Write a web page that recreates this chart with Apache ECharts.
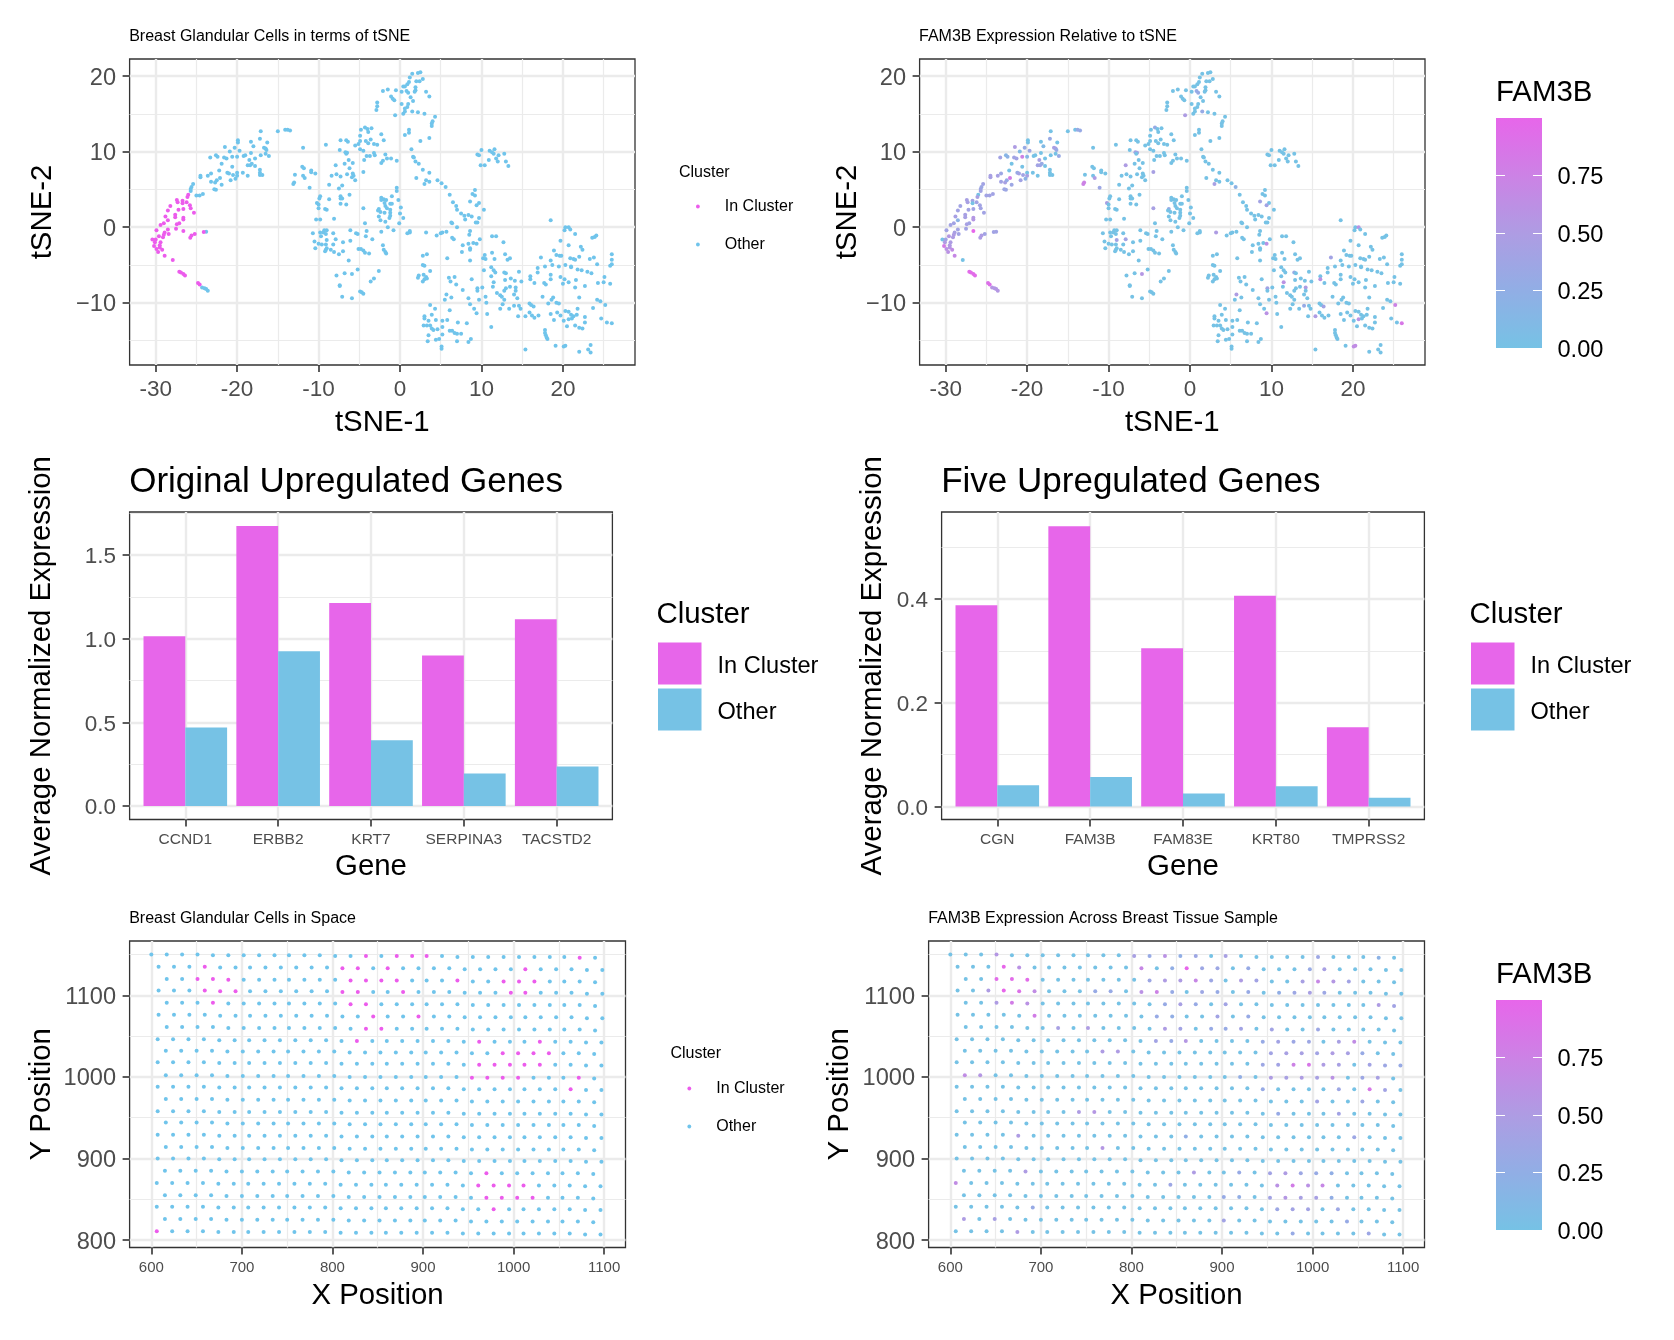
<!DOCTYPE html>
<html><head><meta charset="utf-8">
<style>html,body{margin:0;padding:0;background:#fff}#c{width:1674px;height:1340px}</style>
<script src="https://cdn.jsdelivr.net/npm/echarts@6/dist/echarts.min.js"></script>
</head><body><div id="c"></div>
<script>
// ---------- gene bars ----------
const genesOriginal = ['CCND1','ERBB2','KRT7','SERPINA3','TACSTD2'];
const originalInCluster = [1.015,1.674,1.213,0.90,1.117];
const originalOther = [0.47,0.925,0.393,0.195,0.237];
const genesFive = ['CGN','FAM3B','FAM83E','KRT80','TMPRSS2'];
const fiveInCluster = [0.388,0.54,0.305,0.406,0.153];
const fiveOther = [0.041,0.057,0.025,0.039,0.017];

// ---------- tSNE cells: [tSNE-1, tSNE-2, FAM3B (omitted = 0)] ----------
const tsneInCluster = [
[-26,4.3],[-26.1,4,.45],[-27.4,3.6,.45],[-26.7,3.5,.4],[-26.2,3.3,.4],[-27.3,3.3,.45],[-26.7,3.15],[-25.8,2.9,.4],[-28.2,2.8,.4],[-25.7,2.5,.4],
[-27.2,2.3,.4],[-26.6,2.4,.4],[-28.5,2.2,.4],[-25.3,1.9,.4],[-28.8,1.4,.45],[-27.6,1.65,.45],[-27.6,1.3,.45],[-26.6,1.25,.55],[-26.6,1,.55],[-28.5,.9,.2],
[-29,.5,.4],[-29.4,.3,.4],[-27.4,.4,.45],[-27.1,.5,.4],[-27.5,-.2,.4],[-29.9,-.4,.4],[-28.5,-.3,.4],[-26.6,-.5,1],[-28.9,-.7,.45],[-29,-1,.5],
[-29.6,-1.2,.55],[-29.1,-1.35,.5],[-28.4,-.9,.4],[-25.2,-.9,.4],[-25.6,-1.1,.5],[-25.75,-1.4,.5],[-24.1,-.65,.4],[-30.4,-1.65],[-30,-1.65,.4],[-30.1,-2,.5],
[-29.4,-2,.5],[-29.5,-2.4,.5],[-30.2,-2.5,.8],[-29.5,-2.7,.55],[-29.9,-2.9,.6],[-29.2,-3,.65],[-29.7,-3.3,.6],[-28.9,-3.8,.7],[-27.9,-4.35],[-27.1,-5.9,.95],
[-26.9,-6,.95],[-26.6,-6.2,.95],[-26.4,-6.4,.95],[-24.8,-7.4,.9],[-24.6,-7.6,.9]
];
const tsneOther = [
[-23.8,-.6,.4],[-24.3,-8,.55],[-24,-8.1,.55],[-23.8,-8.2,.55],[-23.6,-8.4,.55],
[-25.4,5.7,.4],[-25.6,5.3,.35],[-25.7,5.05,.35],[-25.7,4.8,.4],[-25,4.2,.4],[-24.6,4.2,.4],[-24.2,4.4,.4],
[-24.5,6.8,.45],[-24.5,6.6,.45],[-23.6,6.8,.45],[-23.2,7.1,.35],[-23.2,6,.4],[-22.7,5.9,.45],[-22.5,6.2,.3],[-22.1,6.5,.8],[-22.2,7.5],[-21.9,5.6,.35],[-22.8,5,.35],[-22.6,4.95,.35],
[-23.3,9.2,.4],[-22.6,9.5,.15],[-22.4,9.3,.2],[-21.6,9.2,.4],[-21.3,9.1,.4],[-21.5,10.6,.5],[-20.9,10,.1],[-20.3,10.5,.3],[-20.6,9.3,.75],[-20,9.3,.15],[-19.7,10.1,.35],[-19.9,11.5],[-19.9,11.2],[-19.2,9.4],[-19,9.5],
[-21.9,8.4],[-20.6,8],[-21.2,7.2,.3],[-21,7.1,.4],[-20.5,6.9,.4],[-20,7.2],[-19.3,7.2],[-20,6.8,.45],[-20.8,6.2,.4],[-20.2,6.4,.2],[-18.7,6.8],[-18.7,8.2,.4],[-18.4,8.2,.4],[-18.2,8.4,.3],[-17.8,8.1],[-18.5,8.9,.45],[-17.8,9.1],[-18.3,9.8],[-18,10.7,.1],[-18.3,11.3],[-17.2,11.7,.3],[-16.3,11.2],[-16.7,10.5,.45],[-16.5,10.4,.45],[-16.4,10.2,.3],[-17.1,9.5],[-16.5,9.7],[-16.1,9.4,.3],[-17.2,7.6],[-17.2,7.2],[-16.9,6.9],[-17.2,6.9],
[-17.1,12.7],[-15,12.7],[-14.1,12.9],[-13.8,12.9,.3],[-13.5,12.8,.3],
[-11.9,10.5],[-9.1,10.9],[-12,8],[-11.8,7.8],[-10.9,7.5],[-10.9,7.25],[-10.4,7.1],[-12.9,6.95],[-11.9,6.8],[-11.7,6.5,.5],[-13,5.9,.75],[-13.1,5.7,.75],[-11.1,5.2,.35],
[-7.3,11.5],[-6.6,11.5],[-6.4,11.3],[-7.4,10.2],[-6.7,9.9,.4],[-6.5,9.85,.4],[-6.6,9.7],[-5.5,10.8],[-5.1,11],[-4.8,12.9],[-4.9,12.1],[-4.3,13.2,.3],[-4,13],[-3.9,12.6],[-3.5,13.1],[-2.3,12.3],[-2,11.5],[-4.9,11.4],[-4.2,11.4],[-3.6,11.6],[-3.9,11.1],[-3.2,11],[-2.8,10.9],[-4.9,10.3],[-4.5,10.1],[-3.2,9.8],[-3.1,9.5],[-4.1,9.4],[-3.7,9.4],[-4.4,8.9],[-1.8,9.6],[-1.6,9.1],[-1.1,9.1],[-.4,8.8],[-2.1,8.8],[-2.3,8.5],
[-7.9,8.2,.5],[-6.8,8.4],[-6.3,8.9],[-5.8,8.5],[-6.2,7.8],[-6.5,7],[-7.8,7],[-8.4,6.8],[-7.3,6.7],[-5.8,7.1],[-5.7,6.8],[-5.9,6.6],[-5.5,6.2],[-4.5,7.3,.45],[-8.7,5.6],[-7.5,5.1],[-7.1,5.5],
[-6.2,4.3],[-7.3,4.1],[-7.3,3.8],[-7.1,3.8],[-8.7,3.7],[-9.8,4.1],[-9.9,3.8],[-10.2,3.2,.45],[-10,3],[-10,2.5],[-9.2,2.4],[-9,2.3],[-7.3,3.1],[-6.6,3],[-4.5,2.5,.45],[-8.1,1.1],[-10.3,1],[-9.8,1],[-4.3,.5],
[-.4,5.2],[-.4,4.8],[-1,4.1],[-2.3,3.9],[-2,3.7],[-1.7,3.6],[-2.3,3.6],[-1.9,3.2],[-.2,3.6],[-1.2,3.1],[-1,3.1],[.1,2.6],[-1.8,2.8],[-1.6,2.5],[-2.6,2.4,.3],[-2.7,2.2],[-2.4,2],[-1.9,1.9],[-1.2,2.3],[-1.2,1.9],[0,1.8],[-1.2,1.5],[-1.3,1.2],[-2.6,1.4],[-2.4,.9],[-1.8,.7],[-.1,.5],[.4,1.2],[-1.5,0],[-.8,-.4],[-2.3,-.6],[-4.1,-.5],[1.2,-.5],[1.2,-.7],[.9,-.8],
[-9.3,-.4],[-9,-.4],[-10.7,-.8],[-9.8,-.7],[-9.4,-.7],[-9.7,-1.2],[-9.1,-.9],[-8.2,-.8],[-10.5,-1.9],[-10,-2.2],[-9.6,-2.3],[-9,-1.7,.4],[-9.1,-2.3],[-10.4,-2.8],[-7.9,-1.6,.4],[-7,-2],[-8.2,-2.3],[-9,-2.8],[-9.1,-3],[-9.2,-3.2],[-8.5,-3],[-8.1,-3.3],[-7.5,-3.6],[-7,-3.2],[-6.1,-.4],[-5.4,-.8],[-5.2,-.9],[-4.2,-1.2],[-6.1,-1.8],[-3.4,-1.6],[-5.1,-2.9],[-4.8,-2.9],[-4.5,-3.1],[-4.3,-3.4],[-3.8,-3.5],[-2.1,-2.4],[-2,-3],[-1.8,-3.3],[-1.7,-3.5],[-6.3,-4.4],
[-7.8,-6.4],[-6.8,-6.1],[-5.9,-6.2,.55],[-5.2,-5.6],[-2.6,-5.8],[-3.2,-6.8],[-3.6,-7.2],[-7.4,-7.7],[-7.4,-7.8],[-4.9,-8.5],[-4.7,-8.6],[-4.5,-8.8],[-7.1,-9.2],[-5.9,-9.4],
[2.5,20.5],[2.2,20.4],[1.5,20.3],[1.2,19.8],[2.8,19.6],[2,19.3],[2.4,19.3],[1.1,19.2],[.9,18.9],[.4,18.6],[.6,18.6],[1.9,18.5],[1.9,18.1],[1.8,17.9],[.8,18,.3],[1,17.8,.3],[.2,17.9],[-.5,18.1],[-1.5,18.2],[-2.1,18],[3.2,17.9],[3.6,17.3],[1.3,17.2],[-1.1,17.3],[-.9,17],[-.7,16.8],[1.6,16.7],[.2,16.3],[1,16.3],[.9,15.9],[.6,15.7],[-2.8,16.5],[-2.8,16],[-2.9,15.5],[.6,15.3],[1.5,15.3,.3],[2.2,15.2],[3,15],[.4,15],[-.6,14.8,.5],[4.3,14.6],[4,14],[3.9,13.7],[3.9,13.4],[1.1,12.9],[1.1,12.5],[.6,12.2],[2.5,11.4],[3.6,11.8],
[1.4,10.3],[1.6,9.3],[1.7,9.2],[1.9,8.7],[2.3,8.4],[2.8,7.6],[3.6,7.2],[2,6.5],[3.2,6.2],[3.6,6],[3,5.7,.45],[4.6,6.2],[5.1,5.8],[5.6,5.3,.2],[6.1,4.3],[6.5,3.3],[6.9,2.8],[7,2.3],[7.5,1.8],[7.9,1.5],[8,1],[8.4,1.6],[8.8,1.4],[6.4,.5],[6.3,.6],[7,0],[9.5,.6],[9.3,.6],[9.7,1.2],[10.3,2.3],[9.7,3.2],[9.4,2.9,.4],[8.6,3.4,.4],[9.2,4.9],[8.9,4.4],[9.2,4.2],
[9.5,9.6],[9.7,9.5],[10,10.2],[11,10.1],[11.3,9.9],[11.6,10.3],[11.5,9.7],[12.1,9.5],[11.8,9.1],[12.8,9.7],[12,8.7],[10.9,8.9],[10.4,8.2],[9.9,8.2],[13,8.7],[13.3,8.1],
[3.2,-.7,.5],[4.5,-1.1],[5,-.8],[5.2,-.7],[5.7,-.6],[6.4,-1.4],[6.6,-1.6],[8.6,-.5],[8.5,-1],[7.7,-2.4],[8.4,-2.2],[9,-2.1],[9.4,-2.2,.6],[9.8,-1.6],[8.6,-2.8],[8.6,-3],[7.6,-3.3],[11.3,-1.2],[11.8,-1.2],[12.7,-2],
[3.3,-3.6],[2.8,-3.8],[5.8,-4.1],[8.6,-4.4],[10.4,-3.7],[10.2,-4.1],[10.5,-4.2],[11.3,-3.4],[11.6,-4.2],[12.9,-3.6],[13.5,-4.1],[13.2,-4.3],
[2.8,-5],[3,-5.1],[3.7,-5.8],[2.3,-6.4],[2.2,-6.7],[2.9,-6.3],[3.2,-6.6],[3,-6.9],[2.8,-7.2],[3.3,-6.8],
[6,-6.7],[6.7,-6.6],[6.2,-7.2],[6.9,-7.6],[8.8,-6.9],[7.7,-8.3],[5.7,-8.9,.5],[5.5,-9.6],[6.3,-9.3],[8.4,-9.4],[9.5,-8.1,.4],[9.5,-8.4],[10.1,-8],[9.7,-9.6],[10.5,-9.2],[10.6,-10],
[3.7,-10.3],[4.3,-10.8],[3,-11.8],[3.9,-11.6],[3,-12.1],[3.5,-12.4],[4.4,-12.3],[5.2,-12.4],[6.1,-11],[5.8,-12.3],[7.1,-12.6],[8.2,-12.7],[2.9,-13],[3.3,-13],[3.7,-13],[3.9,-13.4],[4.1,-13.6],[4.6,-13.5],[5.2,-13.2],[6.1,-13.7],[6.4,-13.7],[6.7,-14],[7,-14.1],[7.5,-14.1],[5.2,-14.2],[3.5,-14.3],[3.4,-15.1],[4.4,-14.9],[4.8,-14.8],[7,-15.1],[8.4,-15.2],[8.7,-14.8],[5.1,-15.8],[5.1,-16.1],
[8.6,-10.2],[9.1,-10.8],[9.4,-11.4,.6],[10.7,-11.5],[11.2,-13.2],[10.3,-5.7],[11.2,-5.3],[11.5,-5.7],[11.7,-6],[11.2,-6.5],[12.8,-6,.3],[13,-6.1],[14.6,-5.9],[12.9,-7],[13.6,-6.8],[14.1,-7.1],[14.9,-7.2],[11.5,-7.3,.6],[11.4,-7.9],[13,-8.1],[12.8,-8.4],[13.5,-7.9],[14.2,-8,.5],[14.2,-8.4],[11.9,-8.7],[12.3,-9],[12.5,-9.2],[12.8,-9.6],[14,-8.9],[14.4,-9.4],[12.6,-10.2],[12.3,-10.8],[13.4,-10.8],[14,-10.4,.3],[14.6,-10.4],[14.8,-10.8],[14.5,-11.8],[15.4,-11.8,.5],[15.9,-10.1],[16.1,-10.3],[16.4,-10.5,.4],[15.9,-11.3],[16.2,-11.7],[16.5,-12],[17,-11.7],
[18.5,.9],[16,-6.5],[16,-6.9,.6],[16.5,-7.4],[16.9,-5.4],[16.9,-6],[17.3,-4,.4],[17.8,-5.2],[18.5,-4.4],[18.9,-3.1],[18.7,-5],[19.2,-3.7],[19.6,-3.8],[19.8,-3.8],[19.5,-5.2],[20.3,-5],[21,-5.2],[21.8,-5.6],[22.3,-5.7],[23,-5.9],[23.5,-6.1],[24.2,-4.9],[26,-3.6],[26,-4.3],[26,-4.9],[25.8,-5.1],[23.8,-4],[23.3,-4.2],[22,-3.9],[20.9,-4.1],[21.3,-4.2],[21.5,-4.3],[21,-5.3],[18.5,-6.3],[18.5,-6.9],[17.7,-7.4],[17.9,-7.6],[19.7,-6.6],[20.2,-6.9],[20,-7.5],[20.7,-7.3],[21.6,-7],[21.5,-8],[22.7,-7.8],[24.3,-7.4],[25,-7.3],[25.1,-6.6],[25.8,-7.5],[22,-9.3],[17.5,-9.2],[18.8,-9.3],[18.6,-9.6],[19.2,-10],[19.5,-10.1],[18.2,-10.1],[18.5,-11.5],[19.3,-11.3],[19.7,-11.7],[18.9,-12.3],[20.1,-12.4],[20.3,-11.1],[20.7,-11.2],[21,-11.6],[20.7,-12.2,.6],[21.1,-12.1],[21.3,-11.8],[21.8,-10.8],[21.7,-11.6],[20.5,-13.1],[21.5,-13],[22,-13.3],[22.4,-13.4],[22.7,-11.9],[22.7,-12.6],[23.7,-10.7],[24.2,-9.6],[24.6,-9.8],[25.2,-10.3,.75],[24.7,-12.1],[25.4,-12.6],[26,-12.7,.85],
[17.8,-13.6],[17.8,-14],[17.9,-14.3],[18,-14.6],[18.1,-14.8],[15.4,-16.2],[19.1,-15.7],[20.1,-15.8,.65],[20.3,-15.7,.65],[22,-16.5],[23.1,-16.2],[23.4,-16.6],[23.4,-15.6],
[20.2,-.4],[20.3,0],[20.7,0,.6],[20.9,-.3],[21.5,-.9],[19.7,-1.8],[20.7,-2.4],[22.2,-2.6],[22.4,-3],[23.6,-1.4],[23.9,-1.3],[24.1,-1.1]
];

// ---------- tissue spots, row by row ----------
const spotXr0 = [600,617,634,651,668,685,702,719,736,752,769,786,803,820,837,854,871,888,904,921,938,955,972,989,1006,1023,1040,1056,1073,1090];
const spotXa0 = [608,625,642,659,676,693,709,726,743,760,777,794,811,828,845,861,878,895,912,929,946,963,980,997,1013,1030,1047,1064,1081,1098];
const spotXa1 = [607,624,641,658,675,692,708,725,742,759,776,793,810,827,844,860,877,894,911,928,945,962,979,996,1012,1029,1046,1063,1080,1097];
const spotXa2 = [606,623,640,657,674,691,707,724,741,758,775,792,809,826,843,859,876,893,910,927,944,961,978,995,1011,1028,1045,1062,1079,1096];
const spotXb0 = [617,634,651,668,685,702,719,736,752,769,786,803,820,837,854,871,888,904,921,938,955,972,989,1006,1023,1040,1056,1073,1090];
const spotXb1 = [616,633,650,667,684,701,718,735,751,768,785,802,819,836,853,870,887,903,920,937,954,971,988,1005,1022,1039,1055,1072,1089];
const spotXb2 = [615,632,649,666,683,700,717,734,750,767,784,801,818,835,852,869,886,902,919,936,953,970,987,1004,1021,1038,1054,1071,1088];
const spotRowX = [spotXr0,spotXa0,spotXb0,spotXa0,spotXb0,spotXa0,spotXb0,spotXa1,spotXb1,spotXa1,spotXb1,spotXa1,spotXb1,spotXa1,spotXb1,spotXa1,spotXb1,spotXa1,spotXb2,spotXa2,spotXb2,spotXa2,spotXb2,spotXa2];
const spotRowY = [
[1150,1150,1150,1150,1149,1149,1149,1149,1149,1149,1149,1149,1148,1148,1148,1148,1148,1148,1148,1148,1147,1147,1147,1147,1147,1147,1147,1147,1146,1146],
[1135,1135,1135,1135,1134,1134,1134,1134,1134,1134,1134,1134,1133,1133,1133,1133,1133,1133,1133,1133,1132,1132,1132,1132,1132,1132,1132,1132,1131,1131],
[1120,1120,1120,1120,1119,1119,1119,1119,1119,1119,1119,1119,1118,1118,1118,1118,1118,1118,1118,1118,1117,1117,1117,1117,1117,1117,1117,1117,1116],
[1106,1106,1106,1106,1105,1105,1105,1105,1105,1105,1105,1105,1104,1104,1104,1104,1104,1104,1104,1104,1103,1103,1103,1103,1103,1103,1103,1103,1102,1102],
[1091,1091,1091,1091,1090,1090,1090,1090,1090,1090,1090,1090,1089,1089,1089,1089,1089,1089,1089,1089,1088,1088,1088,1088,1088,1088,1088,1088,1087],
[1076,1076,1076,1076,1075,1075,1075,1075,1075,1075,1075,1075,1074,1074,1074,1074,1074,1074,1074,1074,1073,1073,1073,1073,1073,1073,1073,1073,1072,1072],
[1061,1061,1061,1061,1060,1060,1060,1060,1060,1060,1060,1060,1059,1059,1059,1059,1059,1059,1059,1059,1058,1058,1058,1058,1058,1058,1058,1058,1057],
[1046,1046,1046,1046,1045,1045,1045,1045,1045,1045,1045,1045,1044,1044,1044,1044,1044,1044,1044,1044,1043,1043,1043,1043,1043,1043,1043,1043,1042,1042],
[1032,1032,1032,1032,1031,1031,1031,1031,1031,1031,1031,1031,1030,1030,1030,1030,1030,1030,1030,1030,1029,1029,1029,1029,1029,1029,1029,1029,1028],
[1018,1018,1018,1018,1017,1017,1017,1017,1017,1017,1017,1017,1016,1016,1016,1016,1016,1016,1016,1016,1015,1015,1015,1015,1015,1015,1015,1015,1014,1014],
[1002,1002,1002,1002,1001,1001,1001,1001,1001,1001,1001,1001,1000,1000,1000,1000,1000,1000,1000,1000,999,999,999,999,999,999,999,999,998],
[988,988,988,988,987,987,987,987,987,987,987,987,986,986,986,986,986,986,986,986,985,985,985,985,985,985,985,985,984,984],
[973,973,973,973,972,972,972,972,972,972,972,972,971,971,971,971,971,971,971,971,970,970,970,970,970,970,970,970,969],
[958,958,958,958,957,957,957,957,957,957,957,957,956,956,956,956,956,956,956,956,955,955,955,955,955,955,955,955,954,954],
[944,944,944,944,943,943,943,943,943,943,943,943,942,942,942,942,942,942,942,942,941,941,941,941,941,941,941,941,940],
[929,929,929,929,928,928,928,928,928,928,928,928,927,927,927,927,927,927,927,927,926,926,926,926,926,926,926,926,925,925],
[914,914,914,914,913,913,913,913,913,913,913,913,912,912,912,912,912,912,912,912,911,911,911,911,911,911,911,911,910],
[900,900,900,900,899,899,899,899,899,899,899,899,898,898,898,898,898,898,898,898,897,897,897,897,897,897,897,897,896,896],
[885,885,885,885,884,884,884,884,884,884,884,884,883,883,883,883,883,883,883,883,882,882,882,882,882,882,882,882,881],
[870,870,870,870,869,869,869,869,869,869,869,869,868,868,868,868,868,868,868,868,867,867,867,867,867,867,867,867,866,866],
[855,855,855,855,854,854,854,854,854,854,854,854,853,853,853,853,853,853,853,853,852,852,852,852,852,852,852,852,851],
[841,841,841,841,840,840,840,840,840,840,840,840,839,839,839,839,839,839,839,839,838,838,838,838,838,838,838,838,837,837],
[826,826,826,826,825,825,825,825,825,825,825,825,824,824,824,824,824,824,824,824,823,823,823,823,823,823,823,823,822],
[811,811,811,811,810,810,810,810,810,810,810,810,809,809,809,809,809,809,809,809,808,808,808,808,808,808,808,808,807,807]
];
// in-cluster spots: position within each row
const spotInClusterCols = [
[14,16,17,18,28],[3,12,13,15,24],[2,3,4,12,13,14,15,19,22,23,24],[3,4,5,12,13,16,23,24],[3,12,13],[14,17],[13,14],[13,21,25],[22,23,24,25],[21,22,23,24,25],[20,21,22,23,27],[27],
[],[],[],[],[],[],[21],[21,22,23,24],[21,22,23,24],[22],[],[0]
];
// FAM3B per spot: [position in row, value]; spots not listed are 0
const spotFam3b = [
[[3,.55],[12,.45],[13,.3],[14,.6],[15,.25],[16,.35],[18,.45],[24,.35],[28,.2]],
[[3,1],[4,.6],[12,.7],[14,.25],[15,1],[16,.35],[17,.35],[19,.3],[23,.3],[24,.45]],
[[2,.95],[3,.95],[4,.95],[12,.35],[13,.5],[14,.5],[15,.7],[16,.35],[18,.5],[19,.4],[22,.45],[23,.7],[24,.55],[25,.4]],
[[2,.5],[3,1],[4,.9],[5,.65],[9,.3],[10,.3],[12,.6],[13,.75],[14,.3],[16,.35],[17,.3],[19,.3],[21,.25],[22,.35],[23,.45],[24,.35]],
[[2,.5],[3,.8],[4,.6],[13,.3],[14,.45],[15,.3],[17,.4],[27,.5],[28,.4]],
[[5,.8],[13,.3],[14,.25],[17,.4],[19,.3]],
[[6,.45],[8,.5],[13,.5],[14,.4],[16,.3],[17,.3],[18,.4],[20,.4],[23,.35]],
[[13,.4],[14,.3],[15,.55],[20,.3],[21,.4],[22,.35],[23,.35],[25,.45],[26,.65]],
[[9,.5],[10,.5],[20,.4],[21,.45],[22,.45],[23,.4],[24,.5],[25,.45],[26,.3]],
[[20,.35],[21,.4],[22,.75],[23,.85],[24,.5],[25,.45],[27,.4],[28,.35],[29,.3]],
[[0,.65],[1,.55],[18,.25],[20,.5],[21,.45],[22,.5],[23,.45],[24,.6],[26,.35],[27,.45]],
[[20,.3],[25,.35],[27,.85],[28,.4]],
[[23,.4],[26,.35]],
[[8,.5],[9,.55],[21,.3],[25,.4]],
[],
[[4,.5],[15,.25],[26,.35]],
[[9,.55]],
[],
[[4,.5],[15,.5],[18,.3],[20,.4],[21,.5],[22,.35],[23,.3],[24,.25]],
[[0,.65],[14,.35],[21,.6],[22,.8],[23,.6],[24,.7]],
[[17,.3],[18,.25],[20,.4],[21,.55],[22,.45],[23,.45],[24,.25]],
[[5,.3],[21,.35],[22,.4],[23,.4],[25,.35]],
[[0,.5],[2,.45],[17,.4],[25,.3]],
[[4,.5],[22,.3],[27,.35]]
];

// ---------- ticks ----------
const tsneXMajor = [-30,-20,-10,0,10,20], tsneXMinor = [-25,-15,-5,5,15,25];
const tsneYMajor = [-10,0,10,20], tsneYMinor = [-15,-5,5,15];
const spotXMajor = [600,700,800,900,1000,1100], spotXMinor = [650,750,850,950,1050];
const spotYMajor = [800,900,1000,1100], spotYMinor = [850,950,1050,1150];
const barXTicks = [1,2,3,4,5];
const origYMajor = [0,.5,1,1.5], origYMinor = [.25,.75,1.25,1.75];
const fiveYMajor = [0,.2,.4], fiveYMinor = [.1,.3,.5];
const colorbarTicks = [0,.25,.5,.75];

// ---------- styles ----------
const FONT = '"Liberation Sans", Arial, sans-serif';
const PINK='#E766EA', BLUE='#76C2E5', DOT_PINK='#EC5CEC', DOT_BLUE='#70C4EB';
const RAMP=['#76C2E5','#91AEE5','#AE9CE3','#CC82E5','#E766EA'];
const GRID='#EBEBEB', TICK='#333333', TICKTXT='#4D4D4D';
const NAME_SIZE=29.4, DOT=4;

// ---------- build spot tables ----------
const spotIn=[], spotOut=[], spotExpr=[];
spotRowX.forEach((xs,r)=>{
  const fam=new Map(spotFam3b[r]);
  xs.forEach((x,c)=>{
    const y=spotRowY[r][c];
    (spotInClusterCols[r].includes(c)?spotIn:spotOut).push([x,y]);
    spotExpr.push([x,y,fam.get(c)||0]);
  });
});
const tsneExpr=tsneOther.concat(tsneInCluster).map(p=>[p[0],p[1],p[2]||0]);

// ---------- option assembly ----------
const grid=[],xAxis=[],yAxis=[],series=[],legend=[],title=[];
function panel(o){
  const g=grid.length;
  grid.push({left:o.l,top:o.t,width:o.r-o.l,height:o.b-o.t,show:true,borderColor:TICK,borderWidth:1.3,backgroundColor:'#fff',containLabel:false});
  const xi=xAxis.length, yi=yAxis.length;
  const line=(w)=>({show:true,lineStyle:{color:GRID,width:w,type:'solid'}});
  xAxis.push({gridIndex:g,type:'value',min:o.xr[0],max:o.xr[1],position:'bottom',
    name:o.xName,nameLocation:'middle',nameGap:o.xGap,nameTextStyle:{fontFamily:FONT,fontSize:NAME_SIZE,color:'#000',verticalAlign:'middle'},
    axisLine:{show:false,onZero:false},axisTick:{show:true,length:7,customValues:o.xt,lineStyle:{color:TICK,width:1.6}},
    axisLabel:{show:true,customValues:o.xt,margin:o.xMargin,fontFamily:FONT,fontSize:o.xSize,color:TICKTXT,formatter:o.xFmt||(v=>String(v))},
    splitLine:line(2.4)});
  xAxis.push({gridIndex:g,type:'value',min:o.xr[0],max:o.xr[1],position:'bottom',
    axisLine:{show:false,onZero:false},axisTick:{show:false,customValues:o.xm||[]},axisLabel:{show:false},
    splitLine:o.xm?line(1.2):{show:false}});
  const yf=o.yFmt||(v=>String(v).replace('-','\u2212'));
  yAxis.push({gridIndex:g,type:'value',min:o.yr[0],max:o.yr[1],position:'left',
    name:o.yName,nameLocation:'middle',nameGap:o.yGap,nameRotate:90,nameTextStyle:{fontFamily:FONT,fontSize:NAME_SIZE,color:'#000',verticalAlign:'middle'},
    axisLine:{show:false,onZero:false},axisTick:{show:true,length:7,customValues:o.yt,lineStyle:{color:TICK,width:1.6}},
    axisLabel:{show:true,customValues:o.yt,margin:o.yMargin||13.5,formatter:v=>'{t|'+yf(v)+'}',
      rich:{t:{fontFamily:FONT,fontSize:o.ySize,color:TICKTXT,padding:[4,0,0,0]}}},
    splitLine:line(2.4)});
  yAxis.push({gridIndex:g,type:'value',min:o.yr[0],max:o.yr[1],position:'left',
    axisLine:{show:false,onZero:false},axisTick:{show:false,customValues:o.ym},axisLabel:{show:false},
    splitLine:line(1.2)});
  title.push({text:o.title,left:o.titleX,top:o.titleY,textVerticalAlign:'middle',padding:0,textStyle:{fontFamily:FONT,fontSize:o.titleSize,fontWeight:'normal',color:'#000',lineHeight:o.titleSize}});
  return {xi,yi};
}
function dots(ax,name,data,color){
  series.push({type:'scatter',name,xAxisIndex:ax.xi,yAxisIndex:ax.yi,data,symbol:'circle',symbolSize:DOT,itemStyle:color?{color,opacity:1}:{opacity:1},silent:true,animation:false,emphasis:{disabled:true}});
  return series.length-1;
}
function bars(ax,cats,a,b){
  [['In Cluster',a,PINK],['Other',b,BLUE]].forEach(([name,vals,color])=>{
    series.push({type:'bar',name,xAxisIndex:ax.xi,yAxisIndex:ax.yi,data:vals.map((v,i)=>[i+1,v]),barWidth:41.8,barGap:0,itemStyle:{color},silent:true,animation:false,emphasis:{disabled:true}});
  });
}
function dotLegend(x,y,titleY){
  title.push({text:'Cluster',left:x,top:titleY+0.5,padding:0,textStyle:{fontFamily:FONT,fontSize:16,fontWeight:'normal',color:'#000',lineHeight:16}});
  legend.push({orient:'vertical',left:x+17,top:y,padding:0,icon:'circle',itemWidth:3.8,itemHeight:3.8,itemGap:21,selectedMode:false,
    textStyle:{fontFamily:FONT,fontSize:16,color:'#000',padding:[0,0,0,20],height:17,lineHeight:17},
    data:[{name:'In Cluster',itemStyle:{color:DOT_PINK}},{name:'Other',itemStyle:{color:DOT_BLUE}}]});
}
function barLegend(x){
  title.push({text:'Cluster',left:x-1.5,top:613-13,padding:0,textStyle:{fontFamily:FONT,fontSize:NAME_SIZE,fontWeight:'normal',color:'#000',lineHeight:29}});
  legend.push({orient:'vertical',left:x,top:642.5,padding:0,icon:'rect',itemWidth:43.5,itemHeight:42,itemGap:4,selectedMode:false,
    formatter:n=>'{t|'+n+'}',
    textStyle:{rich:{t:{fontFamily:FONT,fontSize:23.6,color:'#000',padding:[6,0,0,11]}}},
    data:[{name:'In Cluster',itemStyle:{color:PINK}},{name:'Other',itemStyle:{color:BLUE}}]});
}
function colorbar(x,top){
  const g=grid.length,h=230;
  grid.push({left:x,top,width:46,height:h,show:true,borderWidth:0,containLabel:false,
    backgroundColor:{type:'linear',x:0,y:1,x2:0,y2:0,colorStops:RAMP.map((c,i)=>({offset:i/4,color:c}))}});
  xAxis.push({gridIndex:g,type:'value',min:0,max:1,show:false});
  const tk={show:true,inside:true,length:9,customValues:colorbarTicks,lineStyle:{color:'#fff',width:1}};
  yAxis.push({gridIndex:g,type:'value',min:0,max:1,position:'left',axisLine:{show:false},axisTick:tk,axisLabel:{show:false},splitLine:{show:false}});
  yAxis.push({gridIndex:g,type:'value',min:0,max:1,position:'right',axisLine:{show:false},axisTick:tk,splitLine:{show:false},
    axisLabel:{show:true,customValues:colorbarTicks,margin:15.5,formatter:v=>'{t|'+v.toFixed(2)+'}',
      rich:{t:{fontFamily:FONT,fontSize:23.6,color:'#000',padding:[4,0,0,0]}}}});
  title.push({text:'FAM3B',left:x,top:top-39.5,padding:0,textStyle:{fontFamily:FONT,fontSize:NAME_SIZE,fontWeight:'normal',color:'#000',lineHeight:29}});
}

const tsneBase={t:59,b:365,xr:[-33.2,28.85],yr:[-18.24,22.25],xt:tsneXMajor,xm:tsneXMinor,yt:tsneYMajor,ym:tsneYMinor,
  xName:'tSNE-1',yName:'tSNE-2',xGap:57.5,xMargin:13,xSize:22.5,ySize:23.6,titleY:36.5,titleSize:16};
const p1=panel({...tsneBase,l:129.6,r:635,yGap:87,title:'Breast Glandular Cells in terms of tSNE',titleX:129.2});
dots(p1,'Other',tsneOther.map(p=>[p[0],p[1]]),DOT_BLUE);
dots(p1,'In Cluster',tsneInCluster.map(p=>[p[0],p[1]]),DOT_PINK);
dotLegend(679,198,164);

const p2=panel({...tsneBase,l:919.6,r:1425,yGap:70,title:'FAM3B Expression Relative to tSNE',titleX:919});
const tsneSeries=dots(p2,'FAM3B cells',tsneExpr,null);
colorbar(1496,118);

const barBase={t:512,b:819.5,xr:[.4,5.6],xt:barXTicks,xName:'Gene',yName:'Average Normalized Expression',xGap:47.5,xMargin:12,xSize:15.5,ySize:22.5,titleY:482,titleSize:35};
const p3=panel({...barBase,l:129.6,r:612.4,yr:[-.08,1.757],yt:origYMajor,ym:origYMinor,yGap:88,title:'Original Upregulated Genes',titleX:129.2,xFmt:v=>genesOriginal[v-1],yFmt:v=>v.toFixed(1)});
bars(p3,genesOriginal,originalInCluster,originalOther);
barLegend(658);

const p4=panel({...barBase,l:941.6,r:1424.4,yr:[-.025,.5676],yt:fiveYMajor,ym:fiveYMinor,yGap:68.5,title:'Five Upregulated Genes',titleX:941.2,xFmt:v=>genesFive[v-1],yFmt:v=>v.toFixed(1)});
bars(p4,genesFive,fiveInCluster,fiveOther);
barLegend(1471);

const spotBase={t:941,b:1247.5,xr:[576,1123.6],yr:[791,1166.5],xt:spotXMajor,xm:spotXMinor,yt:spotYMajor,ym:spotYMinor,
  xName:'X Position',yName:'Y Position',xGap:48.5,xMargin:12.5,xSize:15,ySize:23.6,titleY:918.5,titleSize:16};
const p5=panel({...spotBase,l:129.6,r:625.5,yGap:88,title:'Breast Glandular Cells in Space',titleX:129.2});
dots(p5,'Other',spotOut,DOT_BLUE);
dots(p5,'In Cluster',spotIn,DOT_PINK);
dotLegend(670.4,1080,1045);

const p6=panel({...spotBase,l:928.6,r:1424.5,yGap:88.5,title:'FAM3B Expression Across Breast Tissue Sample',titleX:928.2});
const spotSeries=dots(p6,'FAM3B spots',spotExpr,null);
colorbar(1496,1000);

const chart=echarts.init(document.getElementById('c'),null,{renderer:'canvas',width:1674,height:1340});
chart.setOption({
  animation:false,backgroundColor:'#fff',tooltip:{show:false},
  grid,xAxis,yAxis,series,legend,title,
  visualMap:[{type:'continuous',show:false,min:0,max:1,dimension:2,seriesIndex:[tsneSeries,spotSeries],inRange:{color:RAMP}}]
});
</script></body></html>
